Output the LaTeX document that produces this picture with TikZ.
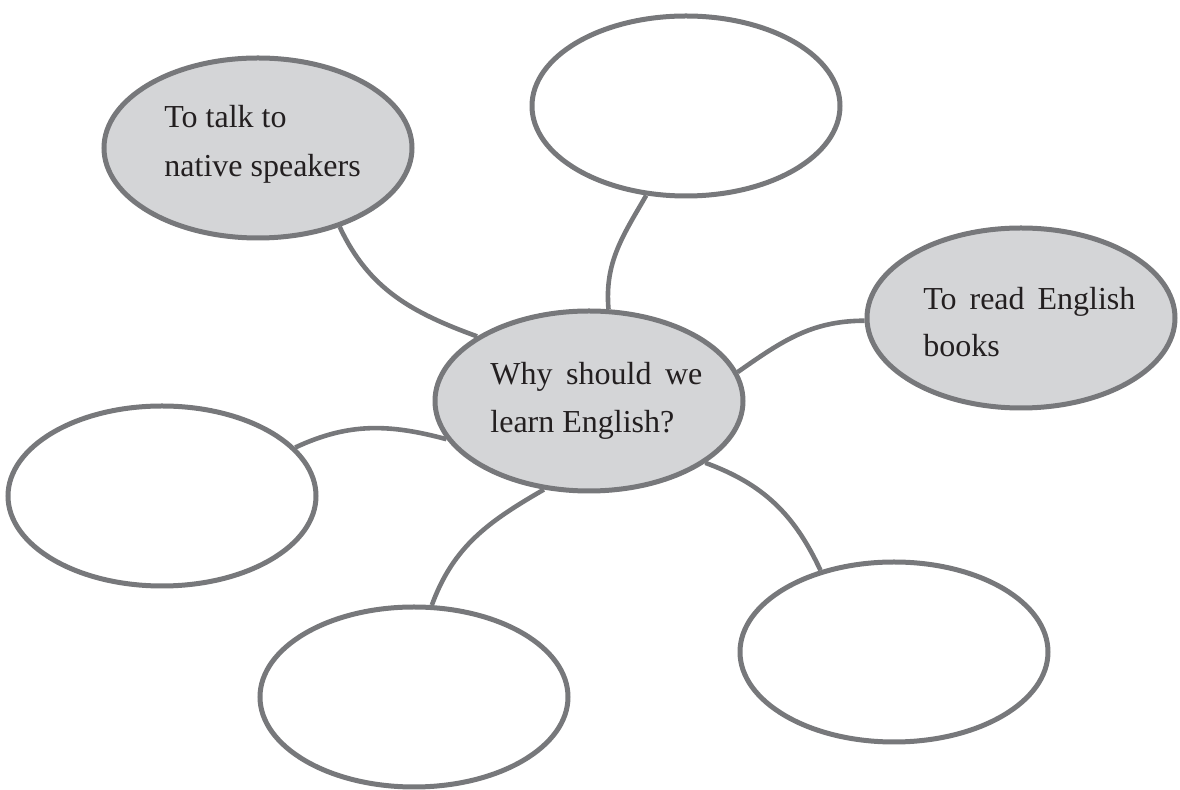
\documentclass[tikz,border=0pt]{standalone}
\usepackage{fontspec}
\setmainfont{Liberation Serif}
\usetikzlibrary{shapes.geometric}
\definecolor{edgegray}{HTML}{77787B}
\definecolor{fillgray}{HTML}{D4D5D7}
\definecolor{inkblack}{HTML}{231F20}
\begin{document}
\begin{tikzpicture}[x=0.5pt,y=-0.5pt,
  bubble/.style={ellipse,draw=edgegray,line width=2.5pt,minimum width=154pt,minimum height=90pt,inner sep=0pt,fill=white},
  filled/.style={bubble,fill=fillgray},
  link/.style={draw=edgegray,line width=2.3pt},
  lbl/.style={anchor=base west,inner sep=0pt,text=inkblack,font=\fontsize{16}{24.5}\selectfont}]
\useasboundingbox (0,0) rectangle (1180,790);
\node[filled] (c) at (589,401) {};
\node[filled] (tl) at (258,148) {};
\node[bubble] (t) at (686,106) {};
\node[filled] (r) at (1021,318) {};
\node[bubble] (l) at (162,496) {};
\node[bubble] (b) at (414,697) {};
\node[bubble] (br) at (894,652) {};
\path[link] (c.150) to[out=160,in=-65] (tl.-44);
\path[link] (c.78) to[out=95,in=240] (t.246);
\path[link] (c.11) to[out=35,in=180] (r.181);
\path[link] (c.-28) to[out=-20,in=115] (br.132);
\path[link] (c.243) to[out=210,in=70] (b.79);
\path[link] (c.195) to[out=165,in=25] (l.20);
\node[lbl] (tl1) at (164,128) {To talk to};
\node[lbl] (tl2) at (164,177) {native speakers};
\node[lbl] (c1) at (490,385) {\makebox[106pt][s]{Why should we}};
\node[lbl] (c2) at (490,433) {learn English?};
\node[lbl] (r1) at (923,310) {\makebox[106pt][s]{To read English}};
\node[lbl] (r2) at (923,357) {books};
\end{tikzpicture}
\end{document}
